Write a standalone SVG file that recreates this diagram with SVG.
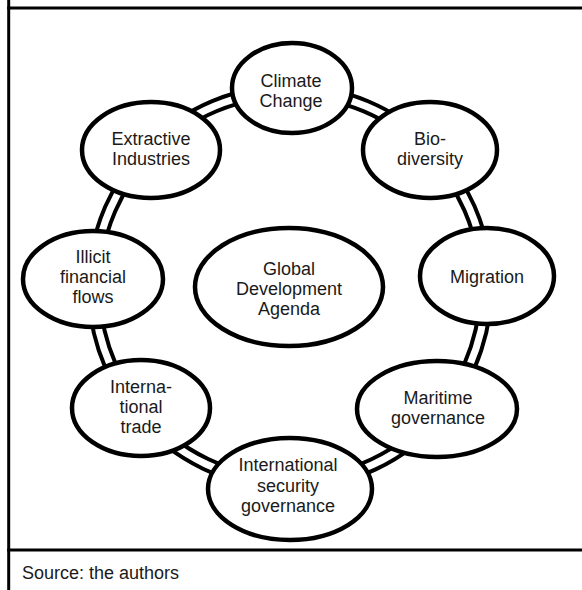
<svg xmlns="http://www.w3.org/2000/svg" xmlns:xlink="http://www.w3.org/1999/xlink" width="582" height="590" viewBox="0 0 582 590">
<style>
.frame{stroke:#000;stroke-width:3;fill:none}
.rail{fill:none;stroke:#000;stroke-width:15}
.gap{fill:none;stroke:#fff;stroke-width:7}
.node ellipse{fill:#fff;stroke:#000;stroke-width:4.5}
text{font-family:"Liberation Sans",Arial,sans-serif;font-size:18px;fill:#1a1a1a;text-anchor:middle}
.src{text-anchor:start}
</style>
<defs>
<path id="c1" d="M290,91 A196,196 0 0 1 430,149.9"/>
<path id="c2" d="M430,149.9 A196,196 0 0 1 485.7,276.7"/>
<path id="c3" d="M485.7,276.7 A196,196 0 0 1 440.8,412.2"/>
<path id="c4" d="M440.8,412.2 A196,196 0 0 1 290,483"/>
<path id="c5" d="M290,483 A196,196 0 0 1 137.9,410.6"/>
<path id="c6" d="M137.9,410.6 A196,196 0 0 1 94.2,279.1"/>
<path id="c7" d="M94.2,279.1 A196,196 0 0 1 150.4,149.4"/>
<path id="c8" d="M150.4,149.4 A196,196 0 0 1 290,91"/>
</defs>
<rect width="582" height="590" fill="#fff"/>
<g id="frame">
<line class="frame" x1="8.7" y1="0" x2="8.7" y2="590"/>
<line class="frame" x1="7.2" y1="8" x2="582" y2="8"/>
<line class="frame" x1="7.2" y1="550" x2="582" y2="550"/>
</g>
<g id="connectors">
<use xlink:href="#c1" class="rail"/><use xlink:href="#c1" class="gap"/>
<use xlink:href="#c2" class="rail"/><use xlink:href="#c2" class="gap"/>
<use xlink:href="#c3" class="rail"/><use xlink:href="#c3" class="gap"/>
<use xlink:href="#c4" class="rail"/><use xlink:href="#c4" class="gap"/>
<use xlink:href="#c5" class="rail"/><use xlink:href="#c5" class="gap"/>
<use xlink:href="#c6" class="rail"/><use xlink:href="#c6" class="gap"/>
<use xlink:href="#c7" class="rail"/><use xlink:href="#c7" class="gap"/>
<use xlink:href="#c8" class="rail"/><use xlink:href="#c8" class="gap"/>
</g>
<g id="climate" class="node"><ellipse cx="292" cy="88" rx="60" ry="45"/><text x="291" y="87">Climate</text><text x="291" y="107">Change</text></g>
<g id="biodiversity" class="node"><ellipse cx="430" cy="150" rx="67" ry="48"/><text x="430" y="145">Bio-</text><text x="430" y="165">diversity</text></g>
<g id="migration" class="node"><ellipse cx="487" cy="276" rx="67" ry="48"/><text x="487" y="283">Migration</text></g>
<g id="maritime" class="node"><ellipse cx="437" cy="409" rx="80" ry="48"/><text x="438" y="404">Maritime</text><text x="438" y="424">governance</text></g>
<g id="security" class="node"><ellipse cx="290" cy="489" rx="82" ry="51"/><text x="288" y="471">International</text><text x="288" y="492">security</text><text x="288" y="512">governance</text></g>
<g id="trade" class="node"><ellipse cx="141" cy="408" rx="69" ry="48"/><text x="141" y="393">Interna-</text><text x="141" y="413">tional</text><text x="141" y="433">trade</text></g>
<g id="illicit" class="node"><ellipse cx="93" cy="279" rx="70" ry="48"/><text x="93" y="263">Illicit</text><text x="93" y="283">financial</text><text x="93" y="303">flows</text></g>
<g id="extractive" class="node"><ellipse cx="151" cy="150" rx="69" ry="48"/><text x="151" y="145">Extractive</text><text x="151" y="165">Industries</text></g>
<g id="global" class="node"><ellipse cx="289" cy="287" rx="94" ry="59"/><text x="289" y="275">Global</text><text x="289" y="295">Development</text><text x="289" y="315">Agenda</text></g>
<text class="src" x="22" y="579">Source: the authors</text>
</svg>
